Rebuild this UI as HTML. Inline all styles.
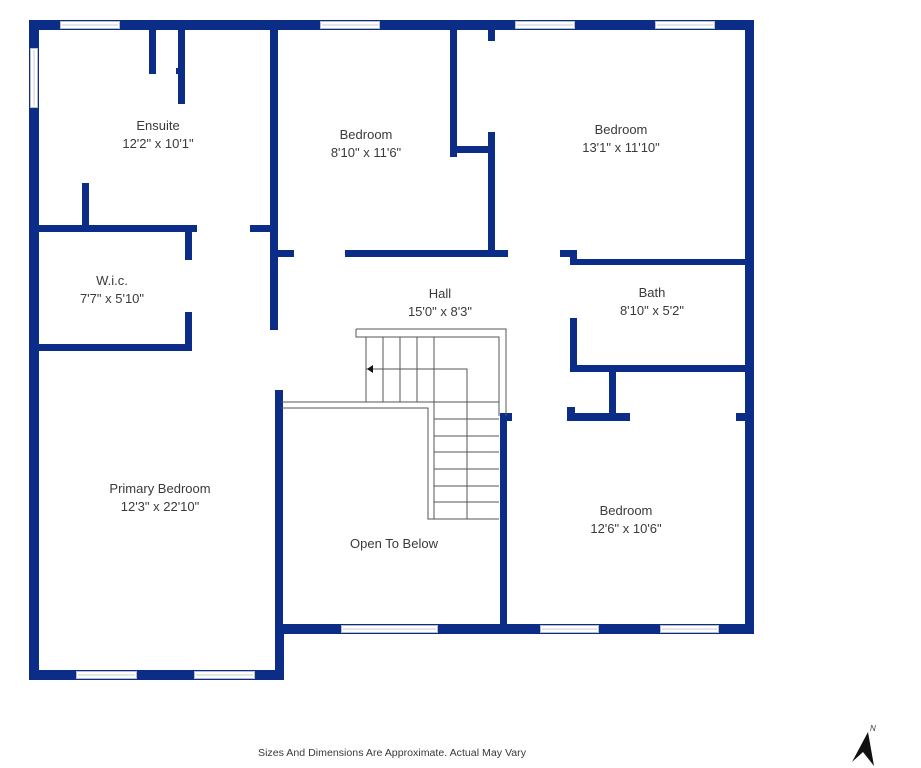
<!DOCTYPE html>
<html><head><meta charset="utf-8"><style>
html,body{margin:0;padding:0;background:#fff;}
svg{display:block;}
text{font-family:"Liberation Sans",sans-serif;fill:#3a3a3a;}
</style></head><body>
<svg width="921" height="768" viewBox="0 0 921 768" xmlns="http://www.w3.org/2000/svg">
<g fill="#0b2d87">
<!-- outer walls -->
<rect x="29" y="20" width="725" height="10"/>
<rect x="29" y="20" width="10" height="660"/>
<rect x="745" y="20" width="9" height="614"/>
<rect x="275" y="624" width="479" height="10"/>
<rect x="29" y="670" width="255" height="10"/>
<rect x="275" y="624" width="9" height="56"/>
<!-- interior -->
<rect x="270" y="29" width="8" height="301"/>
<rect x="275" y="390" width="8" height="240"/>
<rect x="38" y="225" width="159" height="7"/>
<rect x="250" y="225" width="27" height="7"/>
<rect x="185" y="232" width="7" height="28"/>
<rect x="185" y="312" width="7" height="39"/>
<rect x="38" y="344" width="154" height="7"/>
<rect x="82" y="183" width="7" height="44"/>
<rect x="149" y="29" width="7" height="45"/>
<rect x="178" y="29" width="7" height="75"/>
<rect x="176" y="68" width="4" height="6"/>
<rect x="277" y="250" width="17" height="7"/>
<rect x="345" y="250" width="163" height="7"/>
<rect x="450" y="29" width="7" height="128"/>
<rect x="450" y="146" width="43" height="7"/>
<rect x="488" y="29" width="7" height="12"/>
<rect x="488" y="132" width="7" height="122"/>
<rect x="560" y="250" width="17" height="7"/>
<rect x="570" y="250" width="7" height="15"/>
<rect x="570" y="259" width="177" height="6"/>
<rect x="570" y="318" width="7" height="54"/>
<rect x="570" y="365" width="177" height="7"/>
<rect x="609" y="370" width="7" height="48"/>
<rect x="567" y="413" width="63" height="8"/>
<rect x="567" y="407" width="8" height="14"/>
<rect x="736" y="413" width="10" height="8"/>
<rect x="500" y="413" width="12" height="8"/>
<rect x="500" y="416" width="7" height="214"/>
</g>
<!-- windows -->
<g fill="#fff" stroke="#b8bcc8" stroke-width="1">
<rect x="60.5" y="21.5" width="59" height="7"/>
<rect x="320.5" y="21.5" width="59" height="7"/>
<rect x="515.5" y="21.5" width="59" height="7"/>
<rect x="655.5" y="21.5" width="59" height="7"/>
<rect x="30.5" y="48.5" width="7" height="59"/>
<rect x="341.5" y="625.5" width="96" height="7"/>
<rect x="540.5" y="625.5" width="58" height="7"/>
<rect x="660.5" y="625.5" width="58" height="7"/>
<rect x="76.5" y="671.5" width="60" height="7"/>
<rect x="194.5" y="671.5" width="60" height="7"/>
</g>
<g stroke="#c8ccd6" stroke-width="1">
<line x1="62" y1="25" x2="118" y2="25"/><line x1="322" y1="25" x2="378" y2="25"/>
<line x1="517" y1="25" x2="573" y2="25"/><line x1="657" y1="25" x2="713" y2="25"/>
<line x1="34" y1="50" x2="34" y2="106"/>
<line x1="343" y1="629" x2="436" y2="629"/><line x1="542" y1="629" x2="597" y2="629"/>
<line x1="662" y1="629" x2="717" y2="629"/><line x1="78" y1="675" x2="135" y2="675"/>
<line x1="196" y1="675" x2="253" y2="675"/>
</g>
<!-- stairs -->
<g fill="none" stroke="#555" stroke-width="1">
<polyline points="356,329 506,329 506,416"/>
<polyline points="356,329 356,337 499,337 499,416"/>
<line x1="366" y1="337" x2="366" y2="402"/>
<line x1="383" y1="337" x2="383" y2="402"/>
<line x1="400" y1="337" x2="400" y2="402"/>
<line x1="417" y1="337" x2="417" y2="402"/>
<line x1="434" y1="337" x2="434" y2="519"/>
<polyline points="366,369 467,369 467,519"/>
<line x1="281" y1="402" x2="499" y2="402"/>
<polyline points="281,408 428,408 428,519 499,519"/>
<line x1="434" y1="419" x2="499" y2="419"/>
<line x1="434" y1="436" x2="499" y2="436"/>
<line x1="434" y1="452" x2="499" y2="452"/>
<line x1="434" y1="469" x2="499" y2="469"/>
<line x1="434" y1="486" x2="499" y2="486"/>
<line x1="434" y1="502" x2="499" y2="502"/>
</g>
<polygon points="367,369 373,365 373,373" fill="#111"/>
<!-- labels -->
<g font-size="13" text-anchor="middle">
<text x="158" y="130">Ensuite</text><text x="158" y="148">12'2" x 10'1"</text>
<text x="366" y="139">Bedroom</text><text x="366" y="157">8'10" x 11'6"</text>
<text x="621" y="134">Bedroom</text><text x="621" y="152">13'1" x 11'10"</text>
<text x="112" y="285">W.i.c.</text><text x="112" y="303">7'7" x 5'10"</text>
<text x="440" y="298">Hall</text><text x="440" y="316">15'0" x 8'3"</text>
<text x="652" y="297">Bath</text><text x="652" y="315">8'10" x 5'2"</text>
<text x="160" y="493">Primary Bedroom</text><text x="160" y="511">12'3" x 22'10"</text>
<text x="394" y="548">Open To Below</text>
<text x="626" y="515">Bedroom</text><text x="626" y="533">12'6" x 10'6"</text>
</g>
<text x="258" y="756" font-size="10" textLength="268" lengthAdjust="spacingAndGlyphs">Sizes And Dimensions Are Approximate. Actual May Vary</text>
<!-- north arrow -->
<polygon points="868,732 852,762 863,752 874,766" fill="#111"/>
<text x="870" y="731" font-size="8" style="font-style:italic">N</text>
</svg>
</body></html>
